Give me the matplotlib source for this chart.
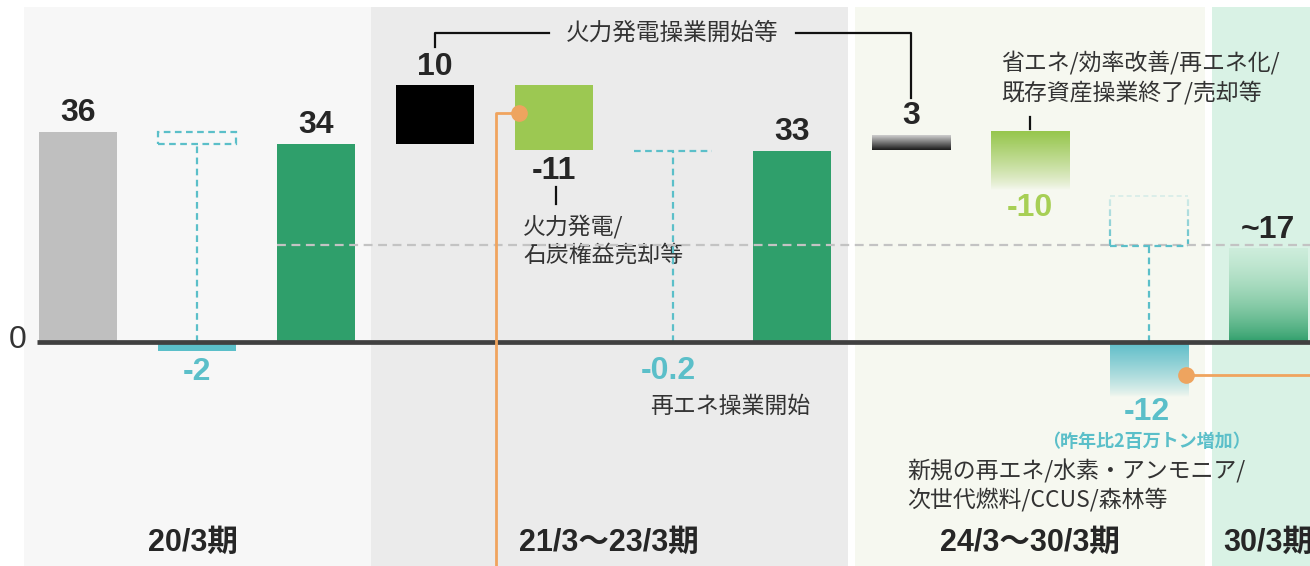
# CO2 emission waterfall (Mt), 20/3 -> 30/3 periods

import matplotlib
matplotlib.use("Agg")
import matplotlib.pyplot as plt
import matplotlib.colors as mcolors
from matplotlib.patches import Rectangle
import numpy as np

# ---- data ----
value_labels = ["36", "-2", "34", "10", "-11", "-0.2", "33", "3", "-10", "-12", "~17"]
step_from = [0, 36, 0, 34, 44, 33, 0, 33, 36, 25, 0]        # waterfall start level
step_to = [36, 34, 34, 44, 33, 32.8, 32.8, 35.5, 26, 16.5, 16]  # waterfall end level
removal_depth = [0, -1.5, 0, 0, 0, 0, 0, 0, 0, -9.5, 0]     # part drawn under zero
target_level = 16.6
periods = ["20/3期", "21/3～23/3期", "24/3～30/3期", "30/3期"]
period_span = [(-0.45, 2.46), (2.46, 6.47), (6.53, 9.47), (9.53, 10.6)]

note_thermal_start = "火力発電操業開始等"
note_divest = "火力発電/\n石炭権益売却等"
note_renew = "再エネ操業開始"
note_efficiency = "省エネ/効率改善/再エネ化/\n既存資産操業終了/売却等"
note_new = "新規の再エネ/水素・アンモニア/\n次世代燃料/CCUS/森林等"
note_yoy = "（昨年比2百万トン増加）"

# ---- styles ----
GRAY = "#bfbfbf"
GREEN = "#2f9f6b"
LIME = "#9cc852"
CYAN = "#5bbfc9"
ORANGE = "#f0a45e"
DARK = "#262626"
BG = ["#f7f7f7", "#ebebeb", "#f6f8f0", "#d9f2e5"]
W = 0.66

NUM = ["Liberation Sans", "Noto Sans CJK JP"]
JP = ["Noto Sans CJK JP", "DejaVu Sans"]


def grad_bar(ax, x, y0, y1, c_bot, c_top, power=1.0):
  n = 256
  t = (np.linspace(0, 1, n) ** power)[:, None]
  bot = np.array(mcolors.to_rgba(c_bot))
  top = np.array(mcolors.to_rgba(c_top))
  img = (bot + (top - bot) * t)[:, None, :]
  ax.imshow(img, extent=[x - W / 2, x + W / 2, min(y0, y1), max(y0, y1)],
            origin="lower", aspect="auto", interpolation="bilinear", zorder=3)


fig = plt.figure(figsize=(13.1, 5.66), dpi=100)
ax = fig.add_axes([0, 0, 1, 1])
ax.set_xlim(-0.6555, 10.353)
ax.set_ylim(-38.42, 58.66)
ax.axis("off")

# period backgrounds
for (a, b), c in zip(period_span, BG):
  ax.add_patch(Rectangle((a, -40), b - a, 57.46 + 40, color=c, zorder=0, lw=0))

x = np.arange(len(value_labels))

# target line (drawn over the bars)
ax.plot([x[2] - W / 2, 10.6], [target_level] * 2, color="#c3c3c3", lw=1.6,
        ls=(0, (4, 2.5)), zorder=4.5)

# solid bars
for i in (0, 2, 6):
  c = GRAY if i == 0 else GREEN
  ax.bar(x[i], step_to[i] - step_from[i], bottom=step_from[i], width=W, color=c, zorder=3)
ax.bar(x[3], step_to[3] - step_from[3], bottom=step_from[3], width=W, color="black", zorder=3)
ax.bar(x[4], step_to[4] - step_from[4], bottom=step_from[4], width=W, color=LIME, zorder=3)
ax.bar(x[1], removal_depth[1], width=W, color=CYAN, zorder=3)

# gradient bars
grad_bar(ax, x[7], step_from[7], step_to[7], "#1a1a1a", "#cfcfcf")
grad_bar(ax, x[8], step_to[8], step_from[8], (0.61, 0.78, 0.32, 0.0), "#96c74c", power=0.8)
grad_bar(ax, x[9], removal_depth[9], 0, (0.36, 0.75, 0.79, 0.0), "#5bbcc8", power=0.8)
grad_bar(ax, x[10], 0, step_to[10], "#2e9e6a", (0.55, 0.82, 0.65, 0.15), power=0.9)

# dashed removal brackets
dash = (0, (3, 2))
ax.add_patch(Rectangle((x[1] - W / 2, step_to[1]), W, step_from[1] - step_to[1],
                       fill=False, ec=CYAN, lw=1.6, ls=dash, zorder=4))
ax.plot([x[1], x[1]], [0, step_to[1]], color=CYAN, lw=1.6, ls=dash, zorder=4)
ax.plot([x[5] - W / 2, x[5] + W / 2], [step_to[5]] * 2, color=CYAN, lw=1.6, ls=dash, zorder=4)
ax.plot([x[5], x[5]], [0, step_to[5]], color=CYAN, lw=1.6, ls=dash, zorder=4)
# fading bracket for the new-business removal
ax.plot([x[9] - W / 2, x[9] + W / 2], [step_to[9]] * 2, color=CYAN, lw=1.6, ls=dash, zorder=4.6)
ax.plot([x[9] - W / 2, x[9] + W / 2], [step_from[9]] * 2, color=CYAN, lw=1.2, ls=dash,
        alpha=0.2, zorder=4)
segs = np.linspace(step_to[9], step_from[9], 6)
for k in range(5):
  a = 1.0 - k * 0.18
  for sx in (x[9] - W / 2, x[9] + W / 2):
    ax.plot([sx, sx], [segs[k], segs[k + 1]], color=CYAN, lw=1.6, ls=dash, alpha=a, zorder=4)
ax.plot([x[9], x[9]], [0, step_to[9]], color=CYAN, lw=1.6, ls=dash, zorder=4)

# zero line
ax.plot([-0.345, 10.6], [0, 0], color="#404040", lw=3.4, zorder=5, solid_capstyle="butt")
ax.text(-0.51, 0.3, "0", ha="center", va="center", fontsize=23, color="#333333", family=NUM)

# value labels above positive bars
for i in (0, 2, 3, 6, 7, 10):
  ax.annotate(value_labels[i], (x[i], step_to[i]),
              xytext=(0, 13.5), textcoords="offset points", ha="center", va="center",
              fontsize=23, fontweight="bold", color=DARK, family=NUM, zorder=6)
ax.text(x[4], 29.4, value_labels[4], ha="center", va="center", fontsize=23,
        fontweight="bold", color=DARK, family=NUM)
ax.text(x[1], -5.2, value_labels[1], ha="center", va="center", fontsize=23,
        fontweight="bold", color=CYAN, family=NUM)
ax.text(x[5] - 0.04, -4.9, value_labels[5], ha="center", va="center", fontsize=23,
        fontweight="bold", color=CYAN, family=NUM)
ax.text(x[8], 23.0, value_labels[8], ha="center", va="center", fontsize=23,
        fontweight="bold", color="#a7cf55", family=NUM)
ax.text(x[9] - 0.02, -12.0, value_labels[9], ha="center", va="center", fontsize=23,
        fontweight="bold", color=CYAN, family=NUM)
ax.text(x[9] - 0.02, -17.0, note_yoy, ha="center", va="center", fontsize=13,
        fontweight="bold", color=CYAN, family=JP)

# annotation bracket over thermal start
ax.plot([x[3], x[3], 3.96], [50.6, 53.0, 53.0], color="#111111", lw=1.6, zorder=4)
ax.plot([6.03, x[7], x[7]], [53.0, 53.0, 41.9], color="#111111", lw=1.6, zorder=4)
ax.text(4.99, 53.0, note_thermal_start, ha="center", va="center", fontsize=17,
        color="#333333", family=JP)

# divest note
ax.plot([4.02, 4.02], [26.6, 23.7], color="#111111", lw=1.6)
ax.text(3.74, 17.4, note_divest, ha="left", va="center", fontsize=16.5,
        color="#333333", family=JP, linespacing=1.25)
ax.text(4.81, -11.0, note_renew, ha="left", va="center", fontsize=16.5,
        color="#333333", family=JP)
ax.plot([8.0, 8.0], [38.6, 36.6], color="#111111", lw=1.6)
ax.text(7.76, 45.3, note_efficiency, ha="left", va="center", fontsize=16.5,
        color="#333333", family=JP, linespacing=1.25)
ax.text(6.97, -24.6, note_new, ha="left", va="center", fontsize=16.5,
        color="#333333", family=JP, linespacing=1.25)

# orange connectors
ax.plot([3.706, 3.51, 3.51], [39.3, 39.3, -40], color=ORANGE, lw=2, zorder=6)
ax.plot([3.706], [39.3], "o", color="#eea45f", ms=11, zorder=7)
ax.plot([9.31, 10.6], [-5.66, -5.66], color=ORANGE, lw=2, zorder=6)
ax.plot([9.31], [-5.66], "o", color="#eea45f", ms=11, zorder=7)

# period labels
for lab, cx in zip(periods[:3], [0.97, 4.46, 8.0]):
  ax.text(cx, -34.5, lab, ha="center", va="center", fontsize=22, fontweight="bold",
          color=DARK, family=NUM)
ax.text(9.62, -34.5, periods[3], ha="left", va="center", fontsize=22, fontweight="bold",
        color=DARK, family=NUM)

fig.savefig("out.png", dpi=100)
